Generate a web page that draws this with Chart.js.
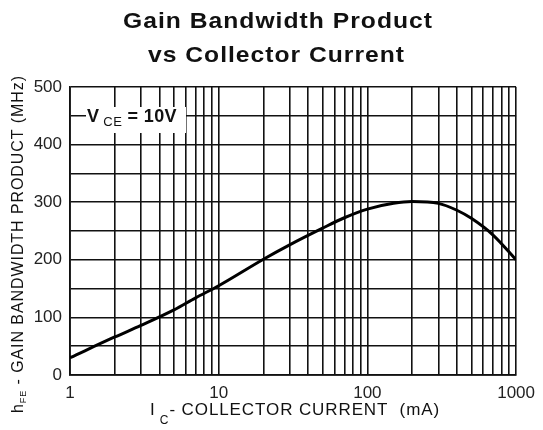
<!DOCTYPE html>
<html>
<head>
<meta charset="utf-8">
<script src="https://cdn.jsdelivr.net/npm/chart.js@4/dist/chart.umd.min.js"></script>
<style>
  html, body { margin: 0; padding: 0; background: #fff; }
</style>
</head>
<body>
<canvas id="chart" width="543" height="430"></canvas>
<script>
// collector current (mA) and gain bandwidth product (MHz)
const current = [1, 2, 3, 5, 7, 10, 20, 30, 50, 70, 100, 150, 200, 300, 400, 500, 700, 1000];
const gbw = [30, 66, 86, 113, 134, 155, 201, 226, 255, 273, 288, 298, 301, 298, 286, 272, 243, 200];

// log grid lines and the ones that get a label
const xGrid = [1, 2, 3, 4, 5, 6, 7, 8, 9, 10, 20, 30, 40, 50, 60, 70, 80, 90, 100, 200, 300, 400, 500, 600, 700, 800, 900, 1000];
const xLabels = [1, 10, 100, 1000];
const yLabels = [0, 100, 200, 300, 400, 500];

const FONT = '"Liberation Sans", Arial, sans-serif';

// draws a run of text pieces (for subscripts), stretched by k and spread to a given width
function drawRun(ctx, parts, x, y, width, k) {
    k = k || 1;
    let total = 0, chars = 0;
    parts.forEach(p => {
        ctx.font = p.font;
        ctx.letterSpacing = '0px';
        p.w = ctx.measureText(p.text).width * k;
        total += p.w;
        chars += p.text.length;
    });
    const sp = width ? (width - total) / chars : 0;
    ctx.save();
    ctx.translate(x, y);
    ctx.scale(k, 1);
    let cx = 0;
    parts.forEach(p => {
        ctx.font = p.font;
        ctx.letterSpacing = (sp / k) + 'px';
        ctx.fillText(p.text, cx / k, p.dy || 0);
        cx += p.w + sp * p.text.length;
    });
    ctx.letterSpacing = '0px';
    ctx.restore();
}

const textPlugin = {
    id: 'texts',
    beforeDatasetsDraw(chart) {
        const ctx = chart.ctx;
        // V_CE label box over the grid
        ctx.save();
        ctx.fillStyle = '#fff';
        ctx.fillRect(86, 107, 100, 26);
        ctx.fillStyle = '#111';
        ctx.textAlign = 'left';
        ctx.textBaseline = 'alphabetic';
        drawRun(ctx, [
            { text: 'V', font: 'bold 18px ' + FONT },
            { text: ' CE', font: '13px ' + FONT, dy: 4 },
            { text: ' = 10V', font: 'bold 18px ' + FONT }
        ], 87, 122, 90);
        ctx.restore();
    },
    afterDraw(chart) {
        const ctx = chart.ctx;
        ctx.save();
        ctx.fillStyle = '#111';
        ctx.textAlign = 'left';
        ctx.textBaseline = 'alphabetic';

        // title, two lines
        drawRun(ctx, [{ text: 'Gain Bandwidth Product', font: 'bold 22px ' + FONT }], 123, 28, 310, 1.12);
        drawRun(ctx, [{ text: 'vs Collector Current', font: 'bold 22px ' + FONT }], 148, 62, 257, 1.12);

        // x axis title
        drawRun(ctx, [
            { text: 'I', font: '17px ' + FONT },
            { text: ' C', font: '12px ' + FONT, dy: 9 },
            { text: '- COLLECTOR CURRENT  (mA)', font: '17px ' + FONT }
        ], 150, 415, 290);

        // y axis title, rotated
        ctx.translate(23, 413);
        ctx.rotate(-Math.PI / 2);
        drawRun(ctx, [
            { text: 'h', font: '16px ' + FONT },
            { text: 'FE', font: '9px ' + FONT, dy: 3 },
            { text: ' - GAIN BANDWIDTH PRODUCT (MHz)', font: '16px ' + FONT }
        ], 0, 0, 338);
        ctx.restore();
    }
};

new Chart(document.getElementById('chart'), {
    type: 'line',
    data: {
        datasets: [{
            data: current.map((c, i) => ({ x: c, y: gbw[i] })),
            borderColor: '#000',
            borderWidth: 3,
            pointRadius: 0,
            cubicInterpolationMode: 'monotone',
            fill: false
        }]
    },
    options: {
        responsive: false,
        animation: false,
        devicePixelRatio: 1,
        layout: { padding: { top: 87, right: 21, bottom: 0, left: 0 } },
        plugins: {
            legend: { display: false },
            tooltip: { enabled: false }
        },
        scales: {
            x: {
                type: 'logarithmic',
                min: 1,
                max: 1000,
                afterBuildTicks: s => { s.ticks = xGrid.map(v => ({ value: v })); },
                afterFit: s => { s.height = 55; },
                ticks: {
                    autoSkip: false,
                    maxRotation: 0,
                    padding: 8,
                    color: '#222',
                    font: { family: FONT, size: 17 },
                    callback: v => xLabels.includes(v) ? String(v) : ''
                },
                grid: { color: '#111', lineWidth: 1.6, drawTicks: false },
                border: { color: '#111', width: 1.8 }
            },
            y: {
                min: 0,
                max: 500,
                afterFit: s => { s.width = 70; },
                ticks: {
                    stepSize: 50,
                    padding: 8,
                    color: '#222',
                    font: { family: FONT, size: 17 },
                    callback: v => yLabels.includes(v) ? String(v) : ''
                },
                grid: { color: '#111', lineWidth: 1.6, drawTicks: false },
                border: { color: '#111', width: 1.8 }
            }
        }
    },
    plugins: [textPlugin]
});
</script>
</body>
</html>
